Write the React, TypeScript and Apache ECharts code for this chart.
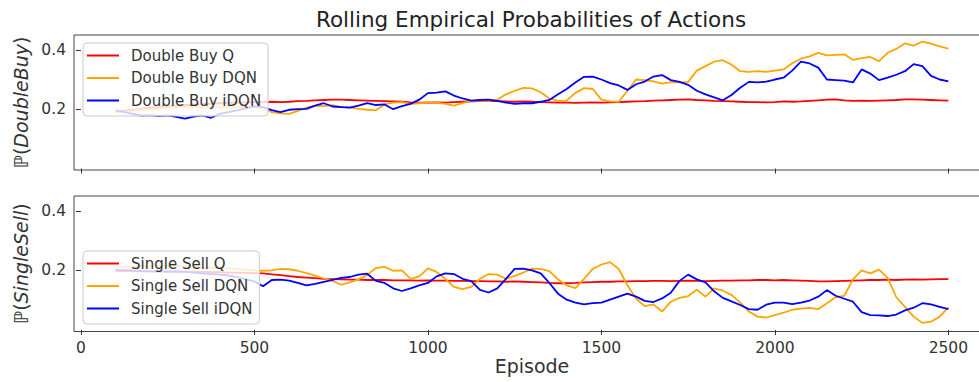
import React, { useEffect, useRef } from "react";
import * as echarts from "echarts";

const EPISODES = [
  100, 125, 150, 175, 200, 225, 250, 275,
  300, 325, 350, 375, 400, 425, 450, 475,
  500, 525, 550, 575, 600, 625, 650, 675,
  700, 725, 750, 775, 800, 825, 850, 875,
  900, 925, 950, 975, 1000, 1025, 1050, 1075,
  1100, 1125, 1150, 1175, 1200, 1225, 1250, 1275,
  1300, 1325, 1350, 1375, 1400, 1425, 1450, 1475,
  1500, 1525, 1550, 1575, 1600, 1625, 1650, 1675,
  1700, 1725, 1750, 1775, 1800, 1825, 1850, 1875,
  1900, 1925, 1950, 1975, 2000, 2025, 2050, 2075,
  2100, 2125, 2150, 2175, 2200, 2225, 2250, 2275,
  2300, 2325, 2350, 2375, 2400, 2425, 2450, 2475,
  2500,
];

const DOUBLE_BUY_Q = [
  0.190, 0.195, 0.198, 0.202, 0.205, 0.207, 0.210, 0.212,
  0.214, 0.216, 0.217, 0.219, 0.220, 0.221, 0.222, 0.223,
  0.224, 0.224, 0.225, 0.224, 0.225, 0.227, 0.228, 0.230,
  0.231, 0.232, 0.232, 0.231, 0.230, 0.229, 0.228, 0.227,
  0.226, 0.225, 0.223, 0.222, 0.222, 0.223, 0.222, 0.224,
  0.225, 0.226, 0.227, 0.228, 0.227, 0.226, 0.225, 0.226,
  0.225, 0.224, 0.223, 0.222, 0.222, 0.221, 0.222, 0.223,
  0.222, 0.223, 0.224, 0.225, 0.226, 0.227, 0.229, 0.230,
  0.231, 0.232, 0.233, 0.231, 0.230, 0.228, 0.227, 0.226,
  0.225, 0.224, 0.224, 0.223, 0.224, 0.226, 0.225, 0.226,
  0.228, 0.230, 0.232, 0.233, 0.230, 0.228, 0.229, 0.228,
  0.229, 0.230, 0.231, 0.233, 0.233, 0.232, 0.231, 0.230,
  0.229,
];

const DOUBLE_BUY_DQN = [
  0.190, 0.192, 0.195, 0.198, 0.200, 0.203, 0.206, 0.208,
  0.207, 0.209, 0.206, 0.208, 0.205, 0.207, 0.206, 0.208,
  0.207, 0.203, 0.190, 0.186, 0.184, 0.194, 0.205, 0.212,
  0.210, 0.214, 0.207, 0.206, 0.201, 0.198, 0.196, 0.216,
  0.222, 0.224, 0.218, 0.220, 0.224, 0.222, 0.218, 0.212,
  0.220, 0.228, 0.229, 0.228, 0.232, 0.250, 0.262, 0.272,
  0.270, 0.257, 0.236, 0.228, 0.229, 0.255, 0.271, 0.268,
  0.232, 0.226, 0.225, 0.262, 0.300, 0.298, 0.294, 0.286,
  0.291, 0.290, 0.292, 0.330, 0.345, 0.360, 0.365, 0.350,
  0.328, 0.326, 0.328, 0.326, 0.330, 0.334, 0.355, 0.370,
  0.378, 0.390, 0.381, 0.383, 0.385, 0.366, 0.372, 0.376,
  0.362, 0.390, 0.403, 0.422, 0.414, 0.428, 0.421, 0.412,
  0.404,
];

const DOUBLE_BUY_IDQN = [
  0.196, 0.190, 0.184, 0.178, 0.180, 0.177, 0.179, 0.174,
  0.168, 0.175, 0.179, 0.171, 0.184, 0.190, 0.196, 0.203,
  0.209, 0.207, 0.197, 0.190, 0.198, 0.200, 0.201, 0.212,
  0.220, 0.209, 0.207, 0.205, 0.212, 0.220, 0.214, 0.216,
  0.200, 0.210, 0.218, 0.232, 0.254, 0.256, 0.260, 0.246,
  0.236, 0.229, 0.231, 0.232, 0.228, 0.222, 0.218, 0.220,
  0.220, 0.225, 0.231, 0.250, 0.268, 0.290, 0.309, 0.310,
  0.300, 0.288, 0.280, 0.265, 0.284, 0.293, 0.310, 0.315,
  0.298, 0.292, 0.282, 0.262, 0.250, 0.240, 0.230, 0.248,
  0.272, 0.292, 0.290, 0.293, 0.300, 0.306, 0.330, 0.360,
  0.354, 0.340, 0.300, 0.298, 0.296, 0.290, 0.334, 0.320,
  0.298, 0.306, 0.316, 0.328, 0.352, 0.345, 0.312, 0.300,
  0.294,
];

const SINGLE_SELL_Q = [
  0.198, 0.199, 0.198, 0.197, 0.197, 0.196, 0.197, 0.196,
  0.196, 0.195, 0.195, 0.194, 0.194, 0.193, 0.193, 0.192,
  0.191, 0.190, 0.187, 0.184, 0.181, 0.178, 0.176, 0.174,
  0.172, 0.171, 0.170, 0.169, 0.169, 0.168, 0.168, 0.168,
  0.167, 0.167, 0.167, 0.166, 0.167, 0.166, 0.166, 0.165,
  0.165, 0.164, 0.164, 0.163, 0.163, 0.162, 0.163, 0.162,
  0.161, 0.160, 0.158, 0.157, 0.157, 0.158, 0.160, 0.161,
  0.162, 0.162, 0.163, 0.163, 0.164, 0.164, 0.165, 0.165,
  0.164, 0.165, 0.166, 0.165, 0.164, 0.165, 0.166, 0.166,
  0.167, 0.167, 0.168, 0.168, 0.167, 0.168, 0.167, 0.166,
  0.165, 0.163, 0.163, 0.164, 0.165, 0.166, 0.167, 0.168,
  0.168, 0.169, 0.168, 0.169, 0.170, 0.169, 0.170, 0.171,
  0.171,
];

const SINGLE_SELL_DQN = [
  0.210, 0.212, 0.213, 0.215, 0.214, 0.216, 0.215, 0.216,
  0.214, 0.212, 0.210, 0.209, 0.208, 0.207, 0.205, 0.203,
  0.200, 0.199, 0.200, 0.205, 0.204, 0.199, 0.191, 0.183,
  0.173, 0.165, 0.152, 0.160, 0.170, 0.185, 0.208, 0.212,
  0.199, 0.200, 0.172, 0.180, 0.207, 0.195, 0.172, 0.145,
  0.137, 0.145, 0.172, 0.188, 0.186, 0.172, 0.182, 0.193,
  0.206, 0.205, 0.198, 0.170, 0.150, 0.141, 0.172, 0.205,
  0.220, 0.228, 0.205, 0.150, 0.105, 0.080, 0.086, 0.062,
  0.095, 0.108, 0.114, 0.135, 0.112, 0.140, 0.132, 0.118,
  0.092, 0.062, 0.045, 0.042, 0.050, 0.058, 0.068, 0.072,
  0.074, 0.070, 0.090, 0.110, 0.115, 0.170, 0.200, 0.190,
  0.203, 0.175, 0.110, 0.078, 0.045, 0.024, 0.028, 0.045,
  0.076,
];

const SINGLE_SELL_IDQN = [
  0.202, 0.201, 0.200, 0.198, 0.197, 0.198, 0.196, 0.197,
  0.195, 0.193, 0.190, 0.188, 0.186, 0.183, 0.178, 0.170,
  0.163, 0.147, 0.168, 0.169, 0.166, 0.158, 0.150, 0.155,
  0.162, 0.168, 0.175, 0.178, 0.186, 0.189, 0.165, 0.158,
  0.140, 0.131, 0.140, 0.150, 0.158, 0.180, 0.190, 0.188,
  0.172, 0.164, 0.135, 0.126, 0.140, 0.172, 0.205, 0.206,
  0.200, 0.190, 0.158, 0.122, 0.102, 0.092, 0.086, 0.090,
  0.092, 0.102, 0.112, 0.122, 0.112, 0.098, 0.094, 0.106,
  0.125, 0.165, 0.186, 0.170, 0.160, 0.130, 0.108, 0.096,
  0.084, 0.070, 0.068, 0.085, 0.092, 0.092, 0.087, 0.092,
  0.099, 0.112, 0.134, 0.115, 0.105, 0.095, 0.060, 0.050,
  0.049, 0.047, 0.052, 0.066, 0.075, 0.090, 0.086, 0.078,
  0.070,
];

const X_TICKS = [0, 500, 1000, 1500, 2000, 2500];
const Y_TICKS = [0.2, 0.4];

const TOP_NAMES = ["Double Buy Q", "Double Buy DQN", "Double Buy iDQN"];
const BOTTOM_NAMES = ["Single Sell Q", "Single Sell DQN", "Single Sell iDQN"];
const COLORS = ["#ff0000", "#ffa500", "#0000ff"];

export default function App() {
  const ref = useRef<HTMLDivElement>(null);

  useEffect(() => {
    const chart = echarts.init(ref.current as HTMLDivElement, null, { renderer: "svg" });
    const font = "'DejaVu Sans', sans-serif";
    const textColor = "#333";

    const pairs = (vals: number[]) => EPISODES.map((e, i) => [e, vals[i]]);
    const line = (name: string, vals: number[], color: string, idx: number) => ({
      name,
      type: "line",
      xAxisIndex: idx,
      yAxisIndex: idx,
      data: pairs(vals),
      showSymbol: false,
      symbol: "none",
      legendIcon: "rect",
      lineStyle: { color, width: 1.8 },
      itemStyle: { color },
      z: 2,
    });

    const xAxis = (idx: number, labels: boolean) => ({
      type: "value",
      gridIndex: idx,
      min: -20,
      max: 2620,
      axisLine: { show: false },
      splitLine: { show: false },
      axisTick: { show: true, length: 5, customValues: X_TICKS, lineStyle: { color: textColor, width: 1 } },
      axisLabel: {
        show: labels,
        customValues: X_TICKS,
        margin: 8,
        fontSize: 15.5,
        color: textColor,
        fontFamily: font,
        formatter: (v: number) => String(Math.round(v)),
      },
      ...(labels
        ? {
            name: "Episode",
            nameLocation: "middle",
            nameGap: 25,
            nameTextStyle: { fontSize: 19, color: textColor, fontFamily: font },
          }
        : {}),
    });

    const yAxis = (idx: number, label: string) => ({
      type: "value",
      gridIndex: idx,
      min: -0.005,
      max: 0.45,
      axisLine: { show: false },
      splitLine: { show: false },
      axisTick: { show: true, length: 5, customValues: Y_TICKS, lineStyle: { color: textColor, width: 1 } },
      axisLabel: {
        customValues: Y_TICKS,
        margin: 8,
        fontSize: 15.5,
        color: textColor,
        fontFamily: font,
        formatter: (v: number) => v.toFixed(1),
      },
      name: `{p|ℙ(}{i|${label}}{p|)}`,
      nameLocation: "middle",
      nameRotate: 90,
      nameGap: 43,
      nameTextStyle: {
        fontSize: 19,
        color: textColor,
        fontFamily: font,
        rich: {
          p: { fontSize: 19, color: textColor, fontFamily: font },
          i: { fontSize: 19, color: textColor, fontFamily: font, fontStyle: "italic" },
        },
      },
    });

    const legend = (names: string[], top: number) => ({
      data: names,
      orient: "vertical",
      left: 83,
      top,
      icon: "rect",
      itemWidth: 32,
      itemHeight: 2,
      itemGap: 7.5,
      padding: [5, 7, 8, 4],
      backgroundColor: "rgba(255,255,255,0.8)",
      borderColor: "#cccccc",
      borderWidth: 1,
      borderRadius: 4,
      textStyle: { fontSize: 15, color: textColor, fontFamily: font, padding: [0, 0, 0, 7] },
      selectedMode: false,
    });

    chart.setOption({
      animation: false,
      backgroundColor: "#ffffff",
      title: {
        text: "Rolling Empirical Probabilities of Actions",
        left: 531,
        textAlign: "center",
        top: 8,
        padding: 0,
        textStyle: { fontSize: 21.5, fontWeight: "normal", color: "#222", fontFamily: font },
      },
      grid: [
        { left: 74, top: 35, width: 916, height: 135, show: true, borderColor: "#444", borderWidth: 1, containLabel: false, outerBoundsMode: "none" },
        { left: 74, top: 196, width: 916, height: 135.5, show: true, borderColor: "#444", borderWidth: 1, containLabel: false, outerBoundsMode: "none" },
      ],
      xAxis: [xAxis(0, false), xAxis(1, true)],
      yAxis: [yAxis(0, "DoubleBuy"), yAxis(1, "SingleSell")],
      legend: [legend(TOP_NAMES, 43), legend(BOTTOM_NAMES, 251)],
      series: [
        line(TOP_NAMES[0], DOUBLE_BUY_Q, COLORS[0], 0),
        line(TOP_NAMES[1], DOUBLE_BUY_DQN, COLORS[1], 0),
        line(TOP_NAMES[2], DOUBLE_BUY_IDQN, COLORS[2], 0),
        line(BOTTOM_NAMES[0], SINGLE_SELL_Q, COLORS[0], 1),
        line(BOTTOM_NAMES[1], SINGLE_SELL_DQN, COLORS[1], 1),
        line(BOTTOM_NAMES[2], SINGLE_SELL_IDQN, COLORS[2], 1),
      ],
    });

    return () => chart.dispose();
  }, []);

  return (
    <div
      ref={ref}
      style={{ position: "absolute", left: 0, top: 0, width: 979, height: 382 }}
    />
  );
}
